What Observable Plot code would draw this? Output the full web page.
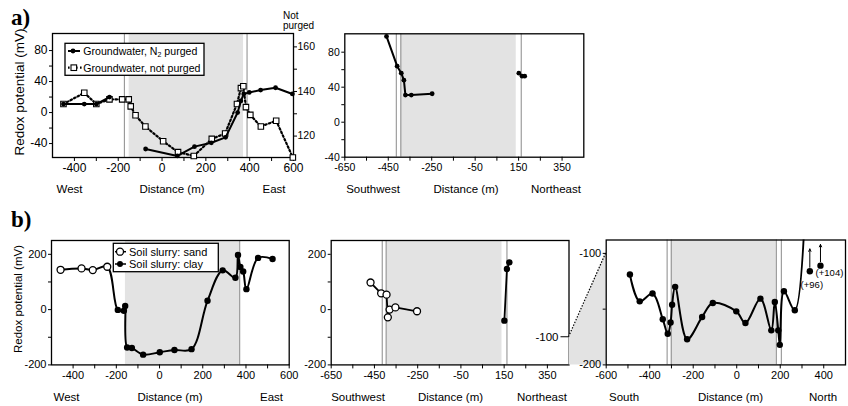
<!DOCTYPE html>
<html><head><meta charset="utf-8">
<script src="https://cdn.jsdelivr.net/npm/d3@7"></script>
<script src="https://cdn.jsdelivr.net/npm/@observablehq/plot@0.6"></script>
<style>
body{margin:0;background:#fff;}
#root{position:relative;width:848px;height:406px;overflow:hidden;background:#fff;}
</style></head><body><div id="root"></div>
<script>
// ---------------- DATA ----------------
// Panel a, West–East transect (groundwater)
const aWE_purgedDist = [-450,-355,-300,-240,null,-75,70,148,225,290,345,360,373,398,450,518,595];
const aWE_purgedMV   = [11,11,11,20,null,-47,-56,-44,-39,-32,0,15,24,26,29,32,24];
const aWE_notDist = [-450,-355,-300,-240,-182,-152,-143,-121,-76,5,73,145,227,288,342,360,371,383,403,451,521,597];
const aWE_notMV   = [11,25.5,11,17,17,17,8,-3.5,-18,-37,-51,-56,-34,-27,11,31.5,34,7,-3,-18,-10.5,-58];
const aWE_band = [-150, 372];
const aWE_bounds = [-172, 388];
const aWE_xTicks = [-400,-200,0,200,400,600];
const aWE_xMinor = [-300,-100,100,300,500];
const aWE_yTicks = [-40,0,40,80];
const aWE_yMinor = [-20,20,60];
const aWE_rightTicks = [120,140,160];
const aWE_rightMinor = [130,150];
const aWE_rightDomain = [110.4,166];

// Panel a, Southwest–Northeast transect
const aSN_dist = [-458,-409,-390,-378,-371,-344,-248,null,151,166,178];
const aSN_mV   = [98,64,56,48,31,31,32.5,null,56,52.6,52.6];
const aSN_band = [-392, 139];
const aSN_bounds = [-413, -392, 162];
const xTicksSN = [-650,-450,-250,-50,150,350];
const xMinorSN = [-550,-350,-150,50,250];

// Panel b, West–East (soil slurry)
const bWE_sandDist = [-458,-361,-309,-242];
const bWE_sandMV   = [144,149,143,155];
const bWE_clayDist = [-193,-165,-159,-150,-128,-76,1,69,148,222,292,351,363,374,387,402,456,523];
const bWE_clayMV   = [-1,-4,13,-137,-139,-163,-154,-146,-143,32,142,115,198,154,138,74,187,183];
const bWE_band = [-158, 371];
const bWE_bounds = [371];
const bYTicks = [-200,0,200];
const bYMinor = [-100,100];

// Panel b, Southwest–Northeast
const bSN_sandDist = [-468,-419,-394,-388,-380,-353,-253];
const bSN_sandMV   = [98,59,54,-28,0,8,-6];
const bSN_clayDist = [151,163,174];
const bSN_clayMV   = [-40,147,171];
const bSN_band = [-394, 140];
const bSN_bounds = [-414, -396, 163];

// Panel b, South–North (expanded -200..-100)
const bNS_dist = [-491,-446,-387,-340,-317,-304,-297,-283,-228,-159,-110,-2,40,109,159,175,191,198,217,267];
const bNS_mV   = [-119,-143,-136,-159,-172,-162,-146,-130,-177,-157,-144.5,-152,-162.4,-140.6,-169,-143.5,-169,-182,-134,-151];
const bNS_offDist  = [336, 385];
const bNS_offMV    = [96, 104];
const bNS_offShown = [-116, -111];
const bNS_offArrowTop = [-96, -92];
const bNS_offLabels = ["(+96)", "(+104)"];
const bNS_band = [-301, 182];
const bNS_bounds = [-320, -301, 182, 205];
const bNS_xTicks = [-600,-400,-200,0,200,400];
const bNS_xMinor = [-500,-300,-100,100,300];
const bNS_yTicks = [-200,-100];
const bNS_yMinor = [-150];

// ---------------- DRAWING ----------------
const W = 848, H = 406;
const root = document.getElementById("root");
const FONT = "'Liberation Sans', Arial, Helvetica, sans-serif";
const GREY = "#e3e3e3", RULE = "#8a8a8a";
const idx = a => d3.range(a.length);
const num = v => (v == null ? NaN : v);
const fmt = d => String(d);

function makePanel(o) {
  const [fx0, fy0, fx1, fy1] = o.frame;
  const [sl, st, sw, sh] = o.box;
  const svg = Plot.plot({
    width: sw, height: sh,
    marginLeft: fx0 - sl, marginTop: fy0 - st, marginRight: sl + sw - fx1, marginBottom: st + sh - fy1,
    x: {type: "linear", domain: o.xDomain},
    y: {type: "linear", domain: o.yDomain},
    style: {background: "transparent", fontFamily: FONT, color: "black", overflow: "visible"},
    marks: o.marks
  });
  Object.assign(svg.style, {position: "absolute", left: sl + "px", top: st + "px", maxWidth: "none"});
  root.appendChild(svg);
  return svg;
}
function frameMarks(band, rules) {
  return [
    Plot.rect([band], {x1: d => d[0], x2: d => d[1], fill: GREY}),
    Plot.ruleX(rules, {stroke: RULE, strokeWidth: 1}),
    Plot.frame({stroke: "black", strokeWidth: 1.3})
  ];
}
function axisMarks(xt, xm, yt, ym, fs) {
  return [
    Plot.axisX(xt, {tickSize: 4, tickPadding: 2, fontSize: fs, tickFormat: fmt, label: null}),
    Plot.axisX(xm, {tickSize: 4, tickFormat: () => "", label: null}),
    Plot.axisY(yt, {tickSize: 3, tickPadding: 2, fontSize: fs, tickFormat: fmt, label: null}),
    Plot.axisY(ym, {tickSize: 3, tickFormat: () => "", label: null})
  ];
}
function lineOf(X, Y, extra = {}) {
  return Plot.line(idx(X), {x: i => num(X[i]), y: i => num(Y[i]), stroke: "black", strokeWidth: 2, ...extra});
}
function dotsOf(X, Y, extra = {}) {
  return Plot.dot(idx(X), {x: i => num(X[i]), y: i => num(Y[i]), r: 3.2, fill: "black", stroke: "none", ...extra});
}

// ---- a, left
const aYD = [-58, 102];
const toLeft = r => aYD[0] + (r - aWE_rightDomain[0]) / (aWE_rightDomain[1] - aWE_rightDomain[0]) * (aYD[1] - aYD[0]);
const toRight = v => aWE_rightDomain[0] + (v - aYD[0]) / (aYD[1] - aYD[0]) * (aWE_rightDomain[1] - aWE_rightDomain[0]);
makePanel({
  box: [0, 0, 330, 185], frame: [52, 33, 293, 157],
  xDomain: [-500, 600], yDomain: aYD,
  marks: [
    ...frameMarks(aWE_band, aWE_bounds),
    ...axisMarks(aWE_xTicks, aWE_xMinor, aWE_yTicks, aWE_yMinor, 12),
    Plot.axisY(aWE_rightTicks.map(toLeft), {anchor: "right", tickSize: 3, tickPadding: 1, fontSize: 10.5, tickFormat: d => String(Math.round(toRight(d))), label: null}),
    Plot.axisY(aWE_rightMinor.map(toLeft), {anchor: "right", tickSize: 3, tickFormat: () => "", label: null}),
    lineOf(aWE_notDist, aWE_notMV, {strokeDasharray: "1.6,2.4", strokeWidth: 2.2}),
    dotsOf(aWE_notDist, aWE_notMV, {symbol: "square", r: 3.1, fill: "white", stroke: "black", strokeWidth: 1.1}),
    lineOf(aWE_purgedDist, aWE_purgedMV),
    dotsOf(aWE_purgedDist, aWE_purgedMV, {r: 2.4})
  ]
});

// ---- a, right
makePanel({
  box: [300, 0, 300, 185], frame: [344.3, 33.3, 583.3, 156.7],
  xDomain: [-650, 450], yDomain: [-40, 101],
  marks: [
    ...frameMarks(aSN_band, aSN_bounds),
    ...axisMarks(xTicksSN, xMinorSN, aWE_yTicks, aWE_yMinor, 10.5),
    lineOf(aSN_dist, aSN_mV),
    dotsOf(aSN_dist, aSN_mV, {r: 2.4})
  ]
});

// ---- b, left
const bWE_allDist = bWE_sandDist.concat(bWE_clayDist);
const bWE_allMV = bWE_sandMV.concat(bWE_clayMV);
makePanel({
  box: [0, 200, 300, 190], frame: [51, 240, 288.7, 364.4],
  xDomain: [-500, 600], yDomain: [-200, 250],
  marks: [
    ...frameMarks(bWE_band, bWE_bounds),
    ...axisMarks(aWE_xTicks, aWE_xMinor, bYTicks, bYMinor, 11),
    lineOf(bWE_allDist, bWE_allMV, {curve: "catmull-rom"}),
    dotsOf(bWE_clayDist, bWE_clayMV),
    dotsOf(bWE_sandDist, bWE_sandMV, {r: 3.5, fill: "white", stroke: "black", strokeWidth: 1.3})
  ]
});

// ---- b, middle
const b2 = makePanel({
  box: [290, 200, 290, 190], frame: [330.7, 240, 568.5, 364.4],
  xDomain: [-650, 450], yDomain: [-200, 250],
  marks: [
    ...frameMarks(bSN_band, bSN_bounds),
    ...axisMarks(xTicksSN, xMinorSN, bYTicks, bYMinor, 11),
    lineOf(bSN_sandDist, bSN_sandMV, {strokeWidth: 1.8}),
    lineOf(bSN_clayDist, bSN_clayMV, {strokeWidth: 1.8}),
    dotsOf(bSN_clayDist, bSN_clayMV),
    dotsOf(bSN_sandDist, bSN_sandMV, {r: 3.5, fill: "white", stroke: "black", strokeWidth: 1.3})
  ]
});

// ---- b, right (expanded)
const off0 = [0], off1 = [1];
const b3 = makePanel({
  box: [566, 200, 282, 190], frame: [605.7, 239.5, 845, 364.4],
  xDomain: [-600, 500], yDomain: [-200, -88],
  marks: [
    ...frameMarks(bNS_band, bNS_bounds),
    ...axisMarks(bNS_xTicks, bNS_xMinor, bNS_yTicks, bNS_yMinor, 11),
    lineOf(bNS_dist.concat(bNS_offDist[0]), bNS_mV.concat(bNS_offMV[0]), {curve: "catmull-rom", clip: true}),
    dotsOf(bNS_dist, bNS_mV),
    Plot.arrow(idx(bNS_offDist), {x: i => bNS_offDist[i], y1: i => bNS_offShown[i] + 3.5, y2: i => bNS_offArrowTop[i], stroke: "black", strokeWidth: 1, headLength: 4, headAngle: 50}),
    dotsOf(bNS_offDist, bNS_offShown),
    Plot.text(off0, {x: i => bNS_offDist[i], y: i => bNS_offShown[i], text: i => bNS_offLabels[i], dx: 2, dy: 13.5, fontSize: 9.5, fill: "black"}),
    Plot.text(off1, {x: i => bNS_offDist[i], y: i => bNS_offShown[i], text: i => bNS_offLabels[i], dx: 9, dy: 7.5, fontSize: 9.5, fill: "black"})
  ]
});

// ---- connector between b middle and b right (from the two panels' scales)
{
  const y2 = b2.scale("y").apply, y3 = b3.scale("y").apply;
  const xR = 568.5, xL = 605.7, t2 = 200, t3 = 200;
  const P = [[xR, t2 + y2(-100)], [xL, t3 + y3(-100)], [xL, t3 + y3(-200)], [xR, t2 + y2(-200)]];
  const con = d3.create("svg").attr("width", W).attr("height", H)
    .style("position", "absolute").style("left", "0px").style("top", "0px");
  con.append("polygon").attr("points", P.map(p => p.join(",")).join(" ")).attr("fill", GREY);
  con.append("line").attr("x1", P[0][0]).attr("y1", P[0][1]).attr("x2", P[1][0]).attr("y2", P[1][1])
    .attr("stroke", "black").attr("stroke-width", 1.2).attr("stroke-dasharray", "1.5,1.5");
  con.append("line").attr("x1", xR - 8).attr("x2", xR).attr("y1", P[0][1]).attr("y2", P[0][1]).attr("stroke", "black");
  con.append("text").attr("x", xR - 10).attr("y", P[0][1]).attr("dy", "0.35em").attr("text-anchor", "end")
    .attr("font-family", FONT).attr("font-size", 11.5).text("-100");
  root.insertBefore(con.node(), b3);
}

// ---- annotations (text, legends)
const ann = d3.create("svg").attr("width", W).attr("height", H)
  .style("position", "absolute").style("left", "0px").style("top", "0px").attr("font-family", FONT);
function T(s, x, y, size, anchor = "middle", extra = {}) {
  const t = ann.append("text").attr("x", x).attr("y", y).attr("font-size", size).attr("text-anchor", anchor).text(s);
  for (const k in extra) t.attr(k, extra[k]);
  return t;
}
T("a)", 11, 25, 23, "start", {"font-family": "'Liberation Serif', 'Times New Roman', serif", "font-weight": "bold"});
T("b)", 11, 227, 23, "start", {"font-family": "'Liberation Serif', 'Times New Roman', serif", "font-weight": "bold"});
T("Not", 283, 18.5, 10, "start");
T("purged", 283, 28.5, 10, "start");
T("Redox potential (mV)", 0, 0, 13.5, "middle", {transform: "translate(23.5,92) rotate(-90)"});
T("Redox potential (mV)", 0, 0, 11.5, "middle", {transform: "translate(21.5,299) rotate(-90)"});
// bottom direction words
[["West", 69.5], ["Distance (m)", 172], ["East", 274], ["Southwest", 373], ["Distance (m)", 466], ["Northeast", 556]]
  .forEach(([s, x]) => T(s, x, 192.5, 11.5));
[["West", 66.5], ["Distance (m)", 170], ["East", 271.5], ["Southwest", 358], ["Distance (m)", 450.5], ["Northeast", 542],
 ["South", 624], ["Distance (m)", 730.5], ["North", 823]]
  .forEach(([s, x]) => T(s, x, 401, 11.5));

// legend a
ann.append("rect").attr("x", 65).attr("y", 43.3).attr("width", 139).attr("height", 32).attr("fill", "white").attr("stroke", "black").attr("stroke-width", 1.3);
ann.append("line").attr("x1", 68).attr("x2", 80).attr("y1", 51).attr("y2", 51).attr("stroke", "black").attr("stroke-width", 2);
ann.append("circle").attr("cx", 73).attr("cy", 51).attr("r", 2.4).attr("fill", "black");
{
  const t = ann.append("text").attr("x", 83.3).attr("y", 54.8).attr("font-size", 10.6);
  t.append("tspan").text("Groundwater, N");
  t.append("tspan").attr("font-size", 7).attr("dy", 2.5).text("2");
  t.append("tspan").attr("dy", -2.5).text(" purged");
}
ann.append("line").attr("x1", 68).attr("x2", 82).attr("y1", 67.7).attr("y2", 67.7).attr("stroke", "black").attr("stroke-width", 2.2).attr("stroke-dasharray", "1.6,2.4");
ann.append("rect").attr("x", 71).attr("y", 64.9).attr("width", 5.6).attr("height", 5.6).attr("fill", "white").attr("stroke", "black").attr("stroke-width", 1.1);
T("Groundwater, not purged", 83.3, 71.5, 10.6, "start");

// legend b
ann.append("rect").attr("x", 113.3).attr("y", 243.3).attr("width", 105).attr("height", 28.4).attr("fill", "white").attr("stroke", "black").attr("stroke-width", 1.3);
ann.append("line").attr("x1", 115).attr("x2", 126).attr("y1", 251.7).attr("y2", 251.7).attr("stroke", "black").attr("stroke-width", 1.5);
ann.append("circle").attr("cx", 120).attr("cy", 251.7).attr("r", 3.5).attr("fill", "white").attr("stroke", "black").attr("stroke-width", 1.3);
T("Soil slurry: sand", 129, 255.6, 11, "start");
ann.append("line").attr("x1", 115).attr("x2", 126).attr("y1", 264).attr("y2", 264).attr("stroke", "black").attr("stroke-width", 1.5);
ann.append("circle").attr("cx", 120).attr("cy", 264).attr("r", 3).attr("fill", "black");
T("Soil slurry: clay", 129, 267.9, 11, "start");

root.appendChild(ann.node());
</script>
</body></html>
